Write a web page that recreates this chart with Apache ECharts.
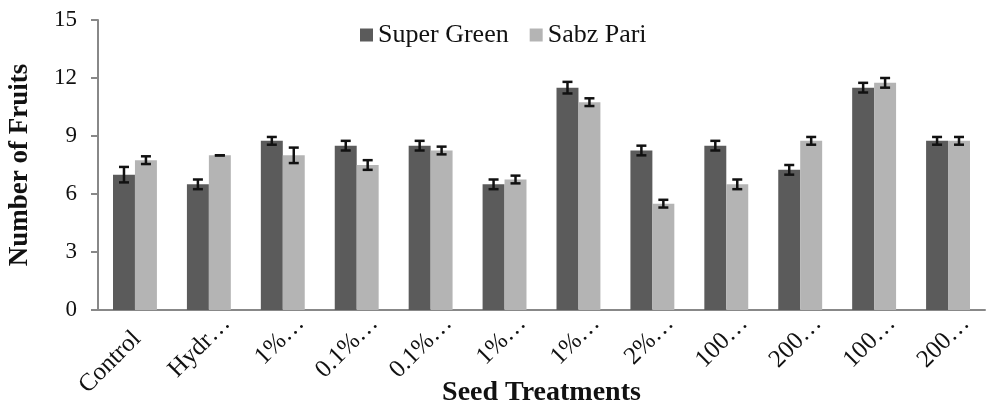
<!DOCTYPE html>
<html><head><meta charset="utf-8">
<script src="https://cdn.jsdelivr.net/npm/echarts@6/dist/echarts.min.js"></script>
<style>html,body{margin:0;padding:0;background:#fff}#c{width:987px;height:407px}</style>
</head><body><div id="c"></div>
<script>
var categories = ["Control","Hydr\u2026","1%\u2026","0.1%\u2026","0.1%\u2026","1%\u2026","1%\u2026","2%\u2026","100\u2026","200\u2026","100\u2026","200\u2026"];
var superGreen = [7.0,6.5,8.75,8.5,8.5,6.5,11.5,8.25,8.5,7.25,11.5,8.75];
var superGreenErr = [0.4,0.25,0.2,0.25,0.25,0.25,0.3,0.25,0.25,0.25,0.25,0.2];
var sabzPari = [7.75,8.0,8.0,7.5,8.25,6.75,10.75,5.5,6.5,8.75,11.75,8.75];
var sabzPariErr = [0.2,0.0,0.4,0.25,0.2,0.2,0.2,0.2,0.25,0.2,0.25,0.2];
var yTicks = [0,3,6,9,12,15];

var FONT = "Liberation Serif";
var BARW = 0.297;

function errSeries(vals, errs, side) {
  var data = vals.map(function(v,i){return [i, v, errs[i]];});
  return {
    type: 'custom', silent: true, z: 10,
    data: data,
    renderItem: function(params, api) {
      var i = api.value(0), v = api.value(1), e = api.value(2);
      var band = api.size([1,0])[0];
      var c = api.coord([i, v]);
      var x = c[0] + side * band * BARW / 2;
      var top = api.coord([i, v + e])[1];
      var bot = api.coord([i, v - e])[1];
      var cap = 5;
      var st = {stroke:'#111', lineWidth:2.5};
      return {type:'group', children:[
        {type:'line', shape:{x1:x,y1:top,x2:x,y2:bot}, style:st},
        {type:'line', shape:{x1:x-cap,y1:top,x2:x+cap,y2:top}, style:st},
        {type:'line', shape:{x1:x-cap,y1:bot,x2:x+cap,y2:bot}, style:st}
      ]};
    }
  };
}

var chart = echarts.init(document.getElementById('c'));
chart.setOption({
  animation:false,
  textStyle:{fontFamily:FONT},
  legend:{
    data:['Super Green','Sabz Pari'],
    top:17, left:355, itemWidth:13, itemHeight:13, itemGap:21,
    textStyle:{fontFamily:FONT, fontSize:26, color:'#111'},
    icon:'rect'
  },
  grid:{left:98, right:2, top:20, bottom:97, containLabel:false, outerBoundsMode:'none'},
  xAxis:{
    type:'category', data:categories,
    axisLine:{lineStyle:{color:'#888', width:2}},
    axisTick:{show:false},
    axisLabel:{rotate:45, fontFamily:FONT, fontSize:25, color:'#111', margin:-8, interval:0,
      padding:[50,0,0,0], hideOverlap:false,
      formatter:function(v){ return v.indexOf('\u2026')>=0 ? '{t|'+v+'}' : '{f|'+v+'}'; },
      rich:{
        t:{fontFamily:FONT, fontSize:25, color:'#111'},
        f:{fontFamily:FONT, fontSize:25, color:'#111', padding:[0,22,0,0]}
      }
    },
    name:'Seed Treatments', nameLocation:'middle', nameGap:69, nameMoveOverlap:false,
    nameTextStyle:{fontFamily:FONT, fontSize:28, fontWeight:'bold', color:'#111'}
  },
  yAxis:{
    type:'value', min:0, max:15, interval:3,
    axisLine:{show:true, lineStyle:{color:'#888', width:2}},
    axisTick:{show:true, length:7, lineStyle:{color:'#888', width:2}},
    splitLine:{show:false},
    axisLabel:{fontFamily:FONT, fontSize:23, color:'#111', margin:21,
      formatter:function(v){return yTicks.indexOf(v)>=0?String(v):'';}},
    name:'Number of Fruits', nameLocation:'middle', nameGap:64, nameRotate:90, nameMoveOverlap:false,
    nameTextStyle:{fontFamily:FONT, fontSize:27, fontWeight:'bold', color:'#111'}
  },
  series:[
    {name:'Super Green', type:'bar', data:superGreen, barWidth:(BARW*100)+'%', barGap:'0%',
      itemStyle:{color:'#5b5b5b'}},
    {name:'Sabz Pari', type:'bar', data:sabzPari, barWidth:(BARW*100)+'%', barGap:'0%',
      itemStyle:{color:'#b4b4b4'}},
    errSeries(superGreen, superGreenErr, -1),
    errSeries(sabzPari, sabzPariErr, 1)
  ]
});
</script>
</body></html>
